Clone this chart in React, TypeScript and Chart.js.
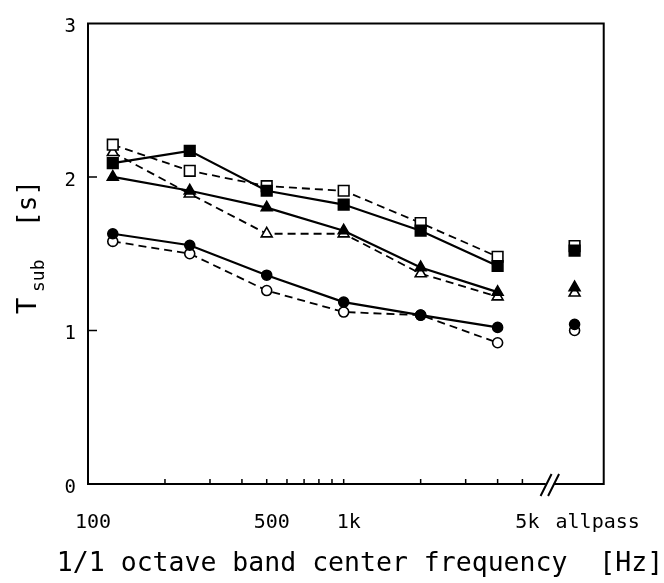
import React, { useEffect, useRef } from 'react';
import { Chart, registerables } from 'chart.js';

Chart.register(...registerables);

// ---- data ----
const FREQS = [125, 250, 500, 1000, 2000, 4000];
const ALLPASS_X = 8000;
const BREAK_X = 6400;
const X_MIN = 100;
const X_MAX = 10400;
const Y_MIN = 0;
const Y_MAX = 3;

const X_TICK_VALUES = [100, 500, 1000, 5000, ALLPASS_X];
const X_TICK_LABELS = ['100', '500', '1k', '5k', '   allpass'];
const X_MINOR_TICKS = [200, 300, 400, 500, 600, 700, 800, 900, 1000, 2000, 3000, 4000, 5000];
const Y_MINOR_TICKS = [1, 2];

const SQUARE_FILLED = [2.09, 2.17, 1.91, 1.82, 1.65, 1.42];
const SQUARE_OPEN = [2.21, 2.04, 1.94, 1.91, 1.7, 1.48];
const TRI_FILLED = [2.0, 1.91, 1.8, 1.65, 1.41, 1.25];
const TRI_OPEN = [2.16, 1.89, 1.63, 1.63, 1.37, 1.22];
const CIRCLE_FILLED = [1.63, 1.555, 1.36, 1.185, 1.1, 1.02];
const CIRCLE_OPEN = [1.58, 1.5, 1.26, 1.12, 1.1, 0.92];

const SQUARE_FILLED_AP = 1.52;
const SQUARE_OPEN_AP = 1.55;
const TRI_FILLED_AP = 1.28;
const TRI_OPEN_AP = 1.245;
const CIRCLE_FILLED_AP = 1.04;
const CIRCLE_OPEN_AP = 1.0;

const X_TITLE = '1/1 octave band center frequency  [Hz]';
const Y_TITLE_MAIN = 'T';
const Y_TITLE_SUB = 'sub';
const Y_TITLE_UNIT = '[s]';

const MONO = '"DejaVu Sans Mono", "Liberation Mono", monospace';

const SERIES = [
  { values: SQUARE_FILLED, ap: SQUARE_FILLED_AP, shape: 'rect', filled: true },
  { values: TRI_FILLED, ap: TRI_FILLED_AP, shape: 'triangle', filled: true },
  { values: CIRCLE_FILLED, ap: CIRCLE_FILLED_AP, shape: 'circle', filled: true },
  { values: SQUARE_OPEN, ap: SQUARE_OPEN_AP, shape: 'rect', filled: false },
  { values: TRI_OPEN, ap: TRI_OPEN_AP, shape: 'triangle', filled: false },
  { values: CIRCLE_OPEN, ap: CIRCLE_OPEN_AP, shape: 'circle', filled: false },
];

const RADIUS: Record<string, number> = { rect: 7.5, triangle: 6.3, circle: 5 };

const framePlugin = {
  id: 'frame',
  afterDraw(chart: any) {
    const { ctx, chartArea: a, scales } = chart;
    const xs = scales.x;
    const ys = scales.y;
    const bx = xs.getPixelForValue(BREAK_X);
    ctx.save();
    ctx.strokeStyle = '#000';
    ctx.lineWidth = 2;
    ctx.beginPath();
    ctx.moveTo(bx - 4, a.bottom);
    ctx.lineTo(a.left, a.bottom);
    ctx.lineTo(a.left, a.top);
    ctx.lineTo(a.right, a.top);
    ctx.lineTo(a.right, a.bottom);
    ctx.lineTo(bx + 4, a.bottom);
    ctx.stroke();

    ctx.lineWidth = 1.5;
    ctx.beginPath();
    X_MINOR_TICKS.forEach((v) => {
      const px = xs.getPixelForValue(v);
      ctx.moveTo(px, a.bottom);
      ctx.lineTo(px, a.bottom - 5);
    });
    Y_MINOR_TICKS.forEach((v) => {
      const py = ys.getPixelForValue(v);
      ctx.moveTo(a.left, py);
      ctx.lineTo(a.left + 9, py);
    });
    ctx.stroke();

    ctx.lineWidth = 2;
    ctx.beginPath();
    [-3.75, 3.75].forEach((o) => {
      ctx.moveTo(bx + o - 5.5, a.bottom + 12);
      ctx.lineTo(bx + o + 5.5, a.bottom - 10);
    });
    ctx.stroke();

    ctx.fillStyle = '#000';
    ctx.textBaseline = 'alphabetic';
    ctx.font = `26.5px ${MONO}`;
    ctx.textAlign = 'center';
    ctx.fillText(X_TITLE, 360, 571);

    ctx.translate(36, 314);
    ctx.rotate(-Math.PI / 2);
    ctx.textAlign = 'left';
    ctx.font = `27px ${MONO}`;
    ctx.fillText(Y_TITLE_MAIN, 0, 0);
    ctx.font = `18px ${MONO}`;
    ctx.fillText(Y_TITLE_SUB, 22, 8);
    ctx.font = `26px ${MONO}`;
    ctx.fillText(Y_TITLE_UNIT, 87, 0);
    ctx.restore();
  },
};

export default function App() {
  const ref = useRef<HTMLCanvasElement | null>(null);

  useEffect(() => {
    if (!ref.current) return;
    const datasets: any[] = [];
    SERIES.forEach((s) => {
      datasets.push({
        data: FREQS.map((f, i) => ({ x: f, y: s.values[i] })),
        borderColor: '#000',
        borderWidth: s.filled ? 2.2 : 1.8,
        borderDash: s.filled ? [] : [8, 5],
        tension: 0,
        fill: false,
        pointStyle: s.shape,
        pointRadius: RADIUS[s.shape],
        pointHoverRadius: RADIUS[s.shape],
        pointBackgroundColor: s.filled ? '#000' : '#fff',
        pointBorderColor: '#000',
        pointBorderWidth: 1.6,
      });
    });
    SERIES.forEach((s) => {
      datasets.push({
        data: [{ x: ALLPASS_X, y: s.ap }],
        borderColor: '#000',
        showLine: false,
        pointStyle: s.shape,
        pointRadius: RADIUS[s.shape],
        pointHoverRadius: RADIUS[s.shape],
        pointBackgroundColor: s.filled ? '#000' : '#fff',
        pointBorderColor: '#000',
        pointBorderWidth: 1.6,
      });
    });

    const chart = new Chart(ref.current, {
      type: 'line',
      data: { datasets },
      plugins: [framePlugin],
      options: {
        animation: false,
        responsive: false,
        devicePixelRatio: 1,
        layout: { padding: { top: 10, right: 39, left: 0, bottom: 0 } },
        plugins: { legend: { display: false }, tooltip: { enabled: false } },
        scales: {
          x: {
            type: 'logarithmic',
            min: X_MIN,
            max: X_MAX,
            afterBuildTicks: (s: any) => {
              s.ticks = X_TICK_VALUES.map((v) => ({ value: v }));
            },
            afterFit: (s: any) => {
              s.height = 99;
            },
            grid: { display: false, drawTicks: false },
            border: { display: false },
            ticks: {
              autoSkip: false,
              maxRotation: 0,
              minRotation: 0,
              padding: 27,
              labelOffset: 5,
              color: '#000',
              font: { family: MONO, size: 20 },
              callback: (_v: any, i: number) => X_TICK_LABELS[i],
            },
          },
          y: {
            type: 'linear',
            min: Y_MIN,
            max: Y_MAX,
            afterFit: (s: any) => {
              s.width = 88;
            },
            grid: { display: false, drawTicks: false },
            border: { display: false },
            ticks: {
              stepSize: 1,
              padding: 12,
              labelOffset: 4,
              color: '#000',
              font: { family: MONO, size: 19 },
            },
          },
        },
      },
    });
    return () => chart.destroy();
  }, []);

  return (
    <div style={{ position: 'absolute', left: 0, top: 0, width: 664, height: 583, background: '#fff' }}>
      <canvas ref={ref} width={664} height={583} style={{ width: 664, height: 583 }} />
    </div>
  );
}
